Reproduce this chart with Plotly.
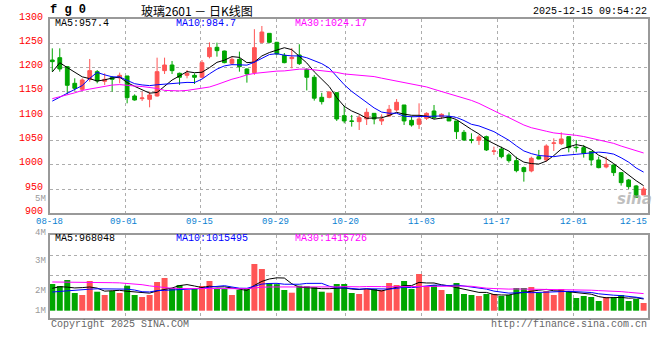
import plotly.graph_objects as go
import pandas as pd

# ---------------- data ----------------
dates = [
    "08-18", "08-19", "08-20", "08-21", "08-22", "08-25", "08-26", "08-27", "08-28", "08-29",
    "09-01", "09-02", "09-03", "09-04", "09-05", "09-08", "09-09", "09-10", "09-11", "09-12",
    "09-15", "09-16", "09-17", "09-18", "09-19", "09-22", "09-23", "09-24", "09-25", "09-26",
    "09-29", "09-30", "10-09", "10-10", "10-13", "10-14", "10-15", "10-16", "10-17", "10-20",
    "10-21", "10-22", "10-23", "10-24", "10-27", "10-28", "10-29", "10-30", "10-31", "11-03",
    "11-04", "11-05", "11-06", "11-07", "11-10", "11-11", "11-12", "11-13", "11-14", "11-17",
    "11-18", "11-19", "11-20", "11-21", "11-24", "11-25", "11-26", "11-27", "11-28", "12-01",
    "12-02", "12-03", "12-04", "12-05", "12-08", "12-09", "12-10", "12-11", "12-12", "12-15",
]

opens = [
    1215.6, 1220.4, 1201.9, 1167.6, 1155.2, 1175.8, 1191.6, 1171.7, 1179.9, 1178.6,
    1182.7, 1141.5, 1136.0, 1134.7, 1141.5, 1193.7, 1205.3, 1188.2, 1184.1, 1184.1,
    1180.0, 1222.5, 1241.7, 1234.1, 1208.8, 1217.0, 1197.1, 1189.6, 1252.0, 1270.5,
    1252.0, 1225.2, 1218.4, 1225.9, 1196.4, 1180.0, 1138.8, 1138.5, 1148.4, 1101.0,
    1090.1, 1088.7, 1094.2, 1105.8, 1090.1, 1100.3, 1112.7, 1123.0, 1091.4, 1083.2,
    1095.5, 1110.6, 1099.0, 1099.0, 1090.1, 1066.7, 1051.6, 1050.3, 1057.8, 1027.5,
    1032.4, 1020.1, 1008.4, 994.0, 987.2, 1016.6, 1009.8, 1044.0, 1043.4, 1057.8,
    1036.0, 1035.2, 1027.0, 1009.8, 995.4, 999.5, 983.7, 968.6, 956.3, 937.8,
]
highs = [
    1239.6, 1239.6, 1203.3, 1177.9, 1177.9, 1217.7, 1195.0, 1188.2, 1182.7, 1189.6,
    1182.7, 1144.9, 1150.4, 1150.4, 1220.4, 1220.4, 1213.6, 1189.6, 1195.0, 1188.2,
    1215.6, 1252.0, 1251.3, 1234.8, 1222.5, 1232.8, 1198.5, 1279.0, 1285.6, 1270.5,
    1253.0, 1230.0, 1240.0, 1248.0, 1198.5, 1184.8, 1148.0, 1150.4, 1148.4, 1121.6,
    1102.4, 1102.4, 1116.1, 1105.8, 1103.8, 1123.0, 1135.3, 1123.0, 1099.0, 1126.4,
    1107.9, 1123.0, 1105.8, 1107.9, 1090.1, 1071.5, 1064.7, 1061.2, 1059.9, 1037.2,
    1037.2, 1023.5, 1016.6, 996.1, 1016.6, 1030.4, 1042.0, 1054.4, 1066.7, 1057.8,
    1051.0, 1040.7, 1027.0, 1016.6, 1016.6, 1000.9, 983.7, 970.7, 958.3, 954.9,
]
lows = [
    1191.6, 1191.6, 1144.9, 1152.5, 1152.5, 1171.0, 1167.6, 1164.2, 1150.4, 1167.6,
    1126.4, 1131.9, 1131.2, 1118.2, 1140.2, 1186.8, 1186.8, 1164.2, 1177.9, 1166.2,
    1177.9, 1219.0, 1222.5, 1208.8, 1205.3, 1191.6, 1169.0, 1185.0, 1249.9, 1249.9,
    1225.9, 1208.8, 1198.5, 1205.3, 1153.0, 1132.0, 1124.0, 1136.7, 1090.1, 1085.3,
    1078.4, 1071.5, 1081.8, 1083.2, 1081.8, 1099.0, 1109.3, 1081.8, 1078.4, 1073.6,
    1092.1, 1094.2, 1094.2, 1090.1, 1053.0, 1048.9, 1044.1, 1040.7, 1028.3, 1020.1,
    1013.2, 1004.3, 984.4, 965.2, 984.4, 1011.1, 1006.4, 1028.3, 1040.7, 1025.6,
    1025.6, 1014.6, 998.1, 992.6, 992.6, 976.9, 957.0, 950.1, 932.3, 937.8,
]
closes = [
    1212.2, 1197.1, 1163.5, 1157.3, 1174.5, 1193.7, 1172.4, 1175.8, 1175.8, 1184.1,
    1138.1, 1133.3, 1137.4, 1143.6, 1191.6, 1205.3, 1193.7, 1180.0, 1188.2, 1180.0,
    1210.1, 1241.0, 1234.8, 1210.1, 1217.0, 1201.9, 1186.8, 1241.0, 1273.2, 1252.0,
    1228.0, 1210.1, 1221.1, 1208.1, 1180.0, 1137.0, 1129.9, 1149.8, 1094.2, 1090.1,
    1089.4, 1096.9, 1107.9, 1094.2, 1094.2, 1114.1, 1128.5, 1090.1, 1081.8, 1094.2,
    1105.8, 1096.9, 1103.8, 1090.1, 1068.1, 1051.0, 1050.3, 1057.1, 1030.4, 1028.3,
    1016.6, 1008.4, 987.8, 985.8, 1013.2, 1011.8, 1038.6, 1044.8, 1053.0, 1035.2,
    1035.2, 1023.5, 1009.8, 994.0, 1000.9, 983.7, 963.1, 954.9, 933.0, 950.1,
]
volumes = [
    2207000, 2041000, 2537000, 1463000, 1298000, 2455000, 1570000, 1298000, 1628000, 1463000,
    2066000, 1298000, 1132000, 1298000, 2372000, 2702000, 1876000, 2124000, 1711000, 1793000,
    2041000, 2455000, 1793000, 1793000, 1298000, 1711000, 1793000, 3860000, 3446000, 2289000,
    2190000, 1711000, 1488000, 2066000, 2025000, 1959000, 1570000, 1488000, 2207000, 2207000,
    1463000, 1380000, 1793000, 1793000, 1711000, 2289000, 2124000, 2455000, 1793000, 3033000,
    2041000, 2124000, 1711000, 1380000, 2289000, 1380000, 1298000, 1215000, 1380000, 1380000,
    1215000, 1298000, 1876000, 1876000, 1959000, 1463000, 1628000, 1298000, 1793000, 1628000,
    1050000, 1215000, 1132000, 802000, 1132000, 1132000, 1298000, 802000, 967000, 636000,
]

# moving-average values at the left edge
# (their windows reach back before the first visible session)
ma5_head = [1191, 1210, 1200, 1190]
ma10_head = [1131, 1139, 1147, 1155, 1163, 1178, 1190, 1185, 1181]
ma30_head = [1136, 1140, 1143, 1148, 1153, 1156, 1159, 1162, 1164, 1165,
             1163, 1162, 1161, 1159, 1157, 1153, 1152, 1152, 1153, 1155,
             1157, 1160, 1165, 1171, 1176, 1180, 1185, 1188, 1190]
vma5_head = [1851000, 1983000, 1950000, 1880000]
vma10_head = [1545000, 1600000, 1650000, 1700000, 1740000, 1780000, 1810000, 1810000, 1800000]
vma30_head = [2372000, 2372000, 2372000, 2360000, 2340000, 2320000, 2314000, 2314000, 2314000, 2300000,
              2260000, 2207000, 2150000, 2050000, 1983000, 1870000, 1850000, 1840000, 1830000, 1830000,
              1830000, 1840000, 1830000, 1830000, 1820000, 1820000, 1820000, 1890000, 1940000]

price_ticks = [900, 950, 1000, 1050, 1100, 1150, 1200, 1250, 1300]
date_ticks = ["08-18", "09-01", "09-15", "09-29", "10-20", "11-03", "11-17", "12-01", "12-15"]
vol_tick_labels = ["5M", "4M", "3M", "2M", "1M"]
title_code = "fg0"
title_text = "玻璃2601 － 日K线图"
stamp = "2025-12-15 09:54:22"
ma_price_text = ["MA5:957.4", "MA10:984.7", "MA30:1024.17"]
ma_vol_text = ["MA5:968048", "MA10:1015495", "MA30:1415726"]


def with_head(vals, n, head):
    rolled = pd.Series(vals).rolling(n).mean().tolist()
    return list(head) + rolled[n - 1:]


ma5 = with_head(closes, 5, ma5_head)
ma10 = with_head(closes, 10, ma10_head)
ma30 = with_head(closes, 30, ma30_head)
vma5 = with_head(volumes, 5, vma5_head)
vma10 = with_head(volumes, 10, vma10_head)
vma30 = with_head(volumes, 30, vma30_head)

# ---------------- layout geometry (pixels) ----------------
W, H = 660, 360
PL, PR, PT, PB = 50, 650, 19, 318
PRICE_BOTTOM = 213.3
VOL_TOP = 234.7
VOL_BASE = 310.7          # pixel row of zero volume
VOL_PX_PER_UNIT = 12.1e-6
X0, STEP = 52.3, 7.51     # pixel of first session, pixels per session

RED = "#FF5555"
GREEN = "#00A600"
GRID = "#ADADAD"
FRAME = "#999999"
MONO = "Liberation Mono, DejaVu Sans Mono, monospace"


def pxx(x):
    return (x - PL) / (PR - PL)


def pxy(y):
    return (PB - y) / (PB - PT)


def vol_at(ypix):
    return (VOL_BASE - ypix) / VOL_PX_PER_UNIT


idx = list(range(len(dates)))
x_range = [(PL - X0) / STEP, (PR - X0) / STEP]
grid_px = [125.7, 201.0, 277.3, 346.3, 422.7, 498.5, 575.0]
grid_x = [(g - X0) / STEP for g in grid_px]
date_label_px = [49, 124, 200, 276.7, 346, 422.7, 498.3, 575, 635]

fig = go.Figure()

fig.add_trace(go.Candlestick(
    x=idx, open=opens, high=highs, low=lows, close=closes,
    increasing=dict(line=dict(color=RED, width=1), fillcolor=RED),
    decreasing=dict(line=dict(color=GREEN, width=1), fillcolor=GREEN),
    whiskerwidth=0, hoverinfo="skip", xaxis="x", yaxis="y", showlegend=False,
))
for series, col in [(ma5, "#000000"), (ma10, "#0000FF"), (ma30, "#FF00FF")]:
    fig.add_trace(go.Scatter(x=idx, y=series, mode="lines", line=dict(color=col, width=1),
                             xaxis="x", yaxis="y", showlegend=False, hoverinfo="skip"))

vol_colors = [RED if c >= o else GREEN for o, c in zip(opens, closes)]
fig.add_trace(go.Bar(x=idx, y=volumes, marker=dict(color=vol_colors, line=dict(width=0)),
                     xaxis="x2", yaxis="y2", showlegend=False, hoverinfo="skip"))
for series, col in [(vma5, "#000000"), (vma10, "#0000FF"), (vma30, "#FF00FF")]:
    fig.add_trace(go.Scatter(x=idx, y=series, mode="lines", line=dict(color=col, width=1),
                             xaxis="x2", yaxis="y2", showlegend=False, hoverinfo="skip"))

axis_common = dict(showline=True, linecolor=FRAME, linewidth=2, mirror=True,
                   showgrid=True, gridcolor=GRID, gridwidth=1, griddash="dot",
                   zeroline=False, ticks="")

fig.update_layout(
    width=W, height=H,
    margin=dict(l=PL, r=W - PR, t=PT, b=H - PB),
    paper_bgcolor="white", plot_bgcolor="white",
    boxgap=0.28, bargap=0.2,
    showlegend=False,
    xaxis=dict(domain=[0, 1], range=x_range, tickvals=grid_x, showticklabels=False,
               anchor="y", rangeslider=dict(visible=False), **axis_common),
    yaxis=dict(domain=[pxy(PRICE_BOTTOM), 1], range=[price_ticks[0], price_ticks[-1]],
               tickvals=price_ticks, ticktext=[str(v) for v in price_ticks],
               tickfont=dict(family=MONO, size=10, color="#FF0000"),
               ticklabelstandoff=3, ticklabelshift=-3, anchor="x", **axis_common),
    xaxis2=dict(domain=[0, 1], range=x_range, tickvals=grid_x, showticklabels=False,
                anchor="y2", matches="x", **axis_common),
    yaxis2=dict(domain=[0, pxy(VOL_TOP)], range=[vol_at(PB), vol_at(VOL_TOP)],
                tickvals=[vol_at(275.3), vol_at(255.3)], showticklabels=False,
                anchor="x2", **axis_common),
)

ann = []


def text(s, x, y, color="#000000", size=10, family=MONO, anchor="left", **kw):
    ann.append(dict(text=s, x=pxx(x), y=pxy(y), xref="paper", yref="paper",
                    xanchor=anchor, yanchor="middle", showarrow=False,
                    font=dict(family=family, size=size, color=color), **kw))


# header
text("<b>" + " ".join(title_code) + "</b>", 48, 10.5, size=12)
text(title_text, 139, 10.5, size=12, family="Noto Sans CJK SC")
text(stamp, 651, 11, anchor="right")
# MA legends
for s, x, col in zip(ma_price_text, [53, 174, 294], ["#000000", "#0000FF", "#FF00FF"]):
    text(s, x, 24, color=col)
for s, x, col in zip(ma_vol_text, [53, 174, 294], ["#000000", "#0000FF", "#FF00FF"]):
    text(s, x, 238.5, color=col)
# volume labels
for s, y in zip(vol_tick_labels, [198.8, 232.7, 260.7, 290.7, 310.7]):
    text(s, 47.5, y, color="#999999", anchor="right", size=9)
# date labels
for s, x in zip(date_ticks, date_label_px):
    text(s, x, 221.8, color="#0A7FD2", anchor="center", size=9)
# footer
text("Copyright 2025 SINA.COM", 49, 324.5, color="#666666")
text("http://finance.sina.com.cn", 651, 324.5, color="#666666", anchor="right")
# watermark
text("<b><i>sina</i></b>", 636, 199, color="rgba(170,170,170,0.75)", size=15,
     family="DejaVu Sans", anchor="center")

fig.update_layout(annotations=ann)
fig.write_html("out.html", config={"displayModeBar": False},
               post_script="document.body.style.margin='0';")
